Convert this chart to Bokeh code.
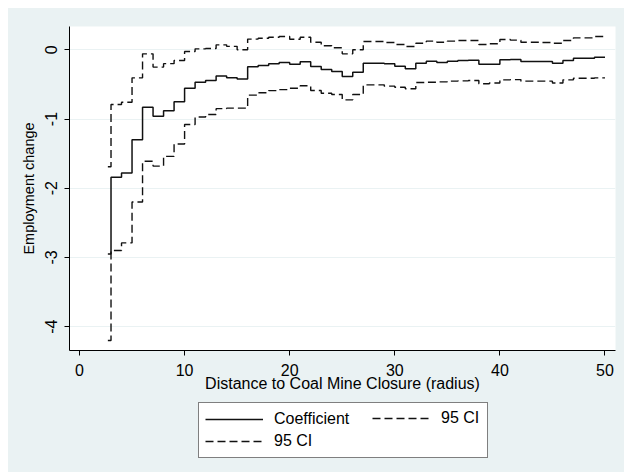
from bokeh.plotting import figure
from bokeh.layouts import column
from bokeh.models import Legend, LegendItem, Range1d, FixedTicker
from bokeh.embed import file_html
from bokeh.resources import INLINE

# ---- data ----
radius = [2.7, 3, 4, 5, 6, 7, 8, 9, 10, 11, 12, 13, 14, 15, 16, 17, 18, 19, 20,
          21, 22, 23, 24, 25, 26, 27, 28, 29, 30, 31, 32, 33, 34, 35, 36, 37, 38,
          39, 40, 41, 42, 43, 44, 45, 46, 47, 48, 49, 50]

coefficient = [-2.95, -1.84, -1.78, -1.30, -0.83, -0.96, -0.88, -0.75, -0.555, -0.47,
               -0.444, -0.38, -0.405, -0.42, -0.245, -0.225, -0.203, -0.184, -0.208,
               -0.174, -0.241, -0.285, -0.314, -0.386, -0.323, -0.193, -0.193, -0.20,
               -0.236, -0.275, -0.193, -0.164, -0.184, -0.164, -0.155, -0.150, -0.208,
               -0.208, -0.145, -0.140, -0.169, -0.169, -0.169, -0.193, -0.155, -0.121,
               -0.121, -0.106, -0.106]

ci_upper = [-1.69, -0.79, -0.757, -0.405, -0.058, -0.25, -0.20, -0.155, -0.025, 0.014,
            0.019, 0.072, 0.05, 0.0, 0.155, 0.168, 0.182, 0.192, 0.153, 0.182, 0.11,
            0.058, 0.029, -0.058, 0.0, 0.12, 0.12, 0.105, 0.077, 0.048, 0.096, 0.125,
            0.11, 0.125, 0.134, 0.134, 0.077, 0.087, 0.149, 0.14, 0.11, 0.11, 0.105,
            0.096, 0.134, 0.173, 0.173, 0.192, 0.192]

ci_lower = [-4.20, -2.90, -2.79, -2.20, -1.61, -1.68, -1.54, -1.36, -1.08, -0.97,
            -0.935, -0.85, -0.843, -0.843, -0.655, -0.62, -0.59, -0.575, -0.555, -0.52,
            -0.588, -0.627, -0.645, -0.723, -0.645, -0.506, -0.506, -0.525, -0.54,
            -0.563, -0.473, -0.468, -0.463, -0.453, -0.449, -0.444, -0.49, -0.48,
            -0.434, -0.43, -0.453, -0.453, -0.453, -0.48, -0.434, -0.41, -0.41,
            -0.405, -0.405]

x_ticks = [0, 10, 20, 30, 40, 50]
x_tick_labels = ["0", "10", "20", "30", "40", "50"]
y_ticks = [0, -1, -2, -3, -4]
y_tick_labels = ["0", "-1", "-2", "-3", "-4"]

FONT = "Liberation Sans"
BG = "#EAF2F3"
INK = "#111111"
DASH = "8 4"

p = figure(width=616, height=392, output_backend="svg", toolbar_location=None,
           x_range=Range1d(-0.95, 51.0), y_range=Range1d(-4.345, 0.337),
           min_border_left=61, min_border_top=18, min_border_right=9,
           min_border_bottom=50)
p.background_fill_color = "white"
p.border_fill_color = BG
p.outline_line_color = None

r_coef = p.step(radius, coefficient, mode="after", line_color=INK, line_width=1.5)
r_up = p.step(radius, ci_upper, mode="after", line_color=INK, line_width=1.4,
              line_dash=DASH)
r_lo = p.step(radius, ci_lower, mode="after", line_color=INK, line_width=1.4,
              line_dash=DASH)

# axes
xa = p.xaxis[0]
xa.ticker = FixedTicker(ticks=x_ticks)
xa.major_label_overrides = {t: l for t, l in zip(x_ticks, x_tick_labels)}
xa.axis_label = "Distance to Coal Mine Closure (radius)"
ya = p.yaxis[0]
ya.ticker = FixedTicker(ticks=y_ticks)
ya.major_label_overrides = {t: l for t, l in zip(y_ticks, y_tick_labels)}
ya.axis_label = "Employment change"
ya.major_label_orientation = "vertical"

for ax in (xa, ya):
    ax.axis_line_color = "black"
    ax.axis_line_width = 1
    ax.major_tick_line_color = "black"
    ax.major_tick_out = 5
    ax.major_tick_in = 0
    ax.minor_tick_line_color = None
    ax.major_label_text_font = FONT
    ax.major_label_text_font_size = "16px"
    ax.major_label_text_color = "black"
    ax.axis_label_text_font = FONT
    ax.axis_label_text_font_style = "normal"
    ax.axis_label_text_color = "black"

xa.axis_label_text_font_size = "16px"
xa.major_label_standoff = 8
xa.axis_label_standoff = -4
ya.axis_label_text_font_size = "14.5px"
ya.major_label_standoff = 7
ya.axis_label_standoff = 6

p.xgrid.grid_line_color = None
p.ygrid.grid_line_color = BG
p.ygrid.grid_line_width = 1.2

# ---- legend strip below the chart (its frame is aligned with the chart's) ----
lf = figure(width=616, height=72, output_backend="svg", toolbar_location=None,
            x_axis_location=None, y_axis_location=None, min_border=0,
            x_range=Range1d(0, 1), y_range=Range1d(0, 1))
lf.background_fill_color = BG
lf.border_fill_color = BG
lf.outline_line_color = None
lf.grid.visible = False

# same series, outside the strip's visible range: only their legend keys show
k_coef = lf.line(radius, coefficient, line_color=INK, line_width=1.5)
k_up = lf.line(radius, ci_upper, line_color=INK, line_width=1.4, line_dash=DASH)
k_lo = lf.line(radius, ci_lower, line_color=INK, line_width=1.4, line_dash=DASH)


def style_legend(lg):
    lg.label_text_font = FONT
    lg.label_text_font_size = "16px"
    lg.label_text_color = "black"
    lg.glyph_width = 58
    lg.glyph_height = 20
    lg.label_standoff = 11
    lg.padding = 6
    lg.spacing = 2
    lg.margin = 0


legend1 = Legend(items=[LegendItem(label="Coefficient", renderers=[k_coef]),
                        LegendItem(label="95 CI", renderers=[k_lo])],
                 orientation="vertical", location=(129, 14))
style_legend(legend1)
legend1.label_width = 207
legend1.border_line_color = "black"
legend1.border_line_width = 1
legend1.background_fill_color = "white"
legend1.background_fill_alpha = 1
lf.add_layout(legend1, "center")

legend2 = Legend(items=[LegendItem(label="95 CI", renderers=[k_up])],
                 orientation="vertical", location=(303, 44))
style_legend(legend2)
legend2.border_line_color = None
legend2.background_fill_alpha = 0
lf.add_layout(legend2, "center")

page = column(p, lf, margin=(8, 0, 0, 8), spacing=0,
              styles={"background-color": BG})

open("out.html", "w").write(file_html(page, INLINE))
